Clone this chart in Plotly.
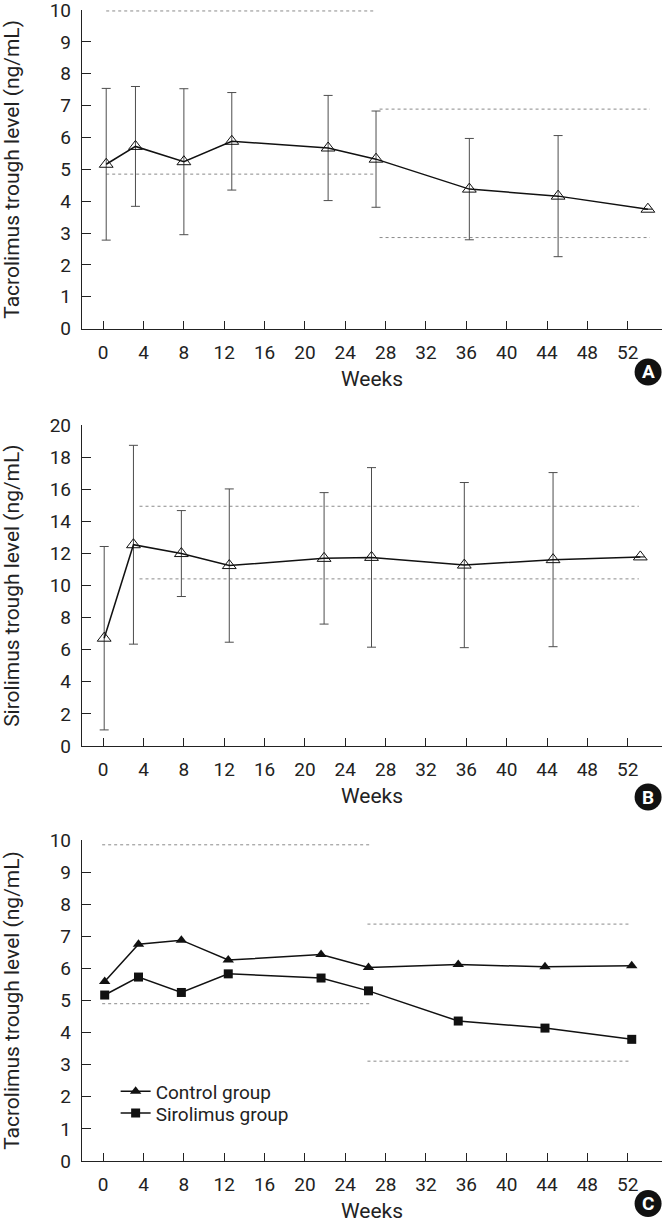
import plotly.graph_objects as go

FONT = "Roboto, Liberation Sans, Arial, sans-serif"

# ---------------- data ----------------
weeks_ticks = list(range(0, 53, 4))

# Panel A: tacrolimus trough level (sirolimus group), mean and SD
a_weeks = [0.3, 3.2, 8.0, 12.75, 22.3, 27.05, 36.3, 45.1, 54.0]
a_mean = [5.16, 5.72, 5.24, 5.88, 5.67, 5.32, 4.38, 4.16, 3.75]
a_sd = [2.38, 1.88, 2.29, 1.53, 1.65, 1.51, 1.59, 1.9, float("nan")]
a_target_x = [[0.3, 27.0], [27.4, 54.2]]
a_target_lo = [4.85, 2.86]
a_target_hi = [9.97, 6.89]

# Panel B: sirolimus trough level
b_weeks = [0.1, 3.0, 7.75, 12.5, 21.9, 26.6, 35.8, 44.6, 53.25]
b_mean = [6.72, 12.55, 12.0, 11.25, 11.7, 11.76, 11.28, 11.62, 11.79]
b_sd = [5.72, 6.2, 2.68, 4.78, 4.1, 5.6, 5.15, 5.43, float("nan")]
b_target_x = [[3.6, 53.1]]
b_target_lo = [10.42]
b_target_hi = [14.95]

# Panel C: tacrolimus trough level, control vs sirolimus group
c_weeks = [0.15, 3.5, 7.75, 12.4, 21.6, 26.3, 35.2, 43.8, 52.4]
c_control = [5.59, 6.75, 6.88, 6.26, 6.43, 6.03, 6.12, 6.05, 6.08]
c_sirolimus = [5.17, 5.73, 5.25, 5.83, 5.7, 5.3, 4.36, 4.14, 3.79]
c_target_x = [[-0.1, 26.4], [26.2, 52.3]]
c_target_lo = [4.9, 3.11]
c_target_hi = [9.85, 7.38]

panel_letters = ["A", "B", "C"]

# ---------------- figure ----------------
fig = go.Figure()

ERR_COLOR = "#4d4d4d"
DOT_COLOR = "#8a8a8a"


def add_targets(xs, los, his, xa, ya):
    for (x0, x1), lo, hi in zip(xs, los, his):
        for v in (lo, hi):
            fig.add_trace(go.Scatter(
                x=[x0, x1], y=[v, v], mode="lines", xaxis=xa, yaxis=ya,
                line=dict(color=DOT_COLOR, width=1, dash="dot"),
                showlegend=False, hoverinfo="skip"))


add_targets(a_target_x, a_target_lo, a_target_hi, "x", "y")
add_targets(b_target_x, b_target_lo, b_target_hi, "x2", "y2")
add_targets(c_target_x, c_target_lo, c_target_hi, "x3", "y3")

fig.add_trace(go.Scatter(
    x=a_weeks, y=a_mean, mode="lines+markers", xaxis="x", yaxis="y",
    line=dict(color="#111111", width=1.5),
    marker=dict(symbol="triangle-up-open", size=12, color="#111111",
                line=dict(width=1)),
    error_y=dict(type="data", array=a_sd, color=ERR_COLOR, thickness=1,
                 width=4.5),
    showlegend=False))

fig.add_trace(go.Scatter(
    x=b_weeks, y=b_mean, mode="lines+markers", xaxis="x2", yaxis="y2",
    line=dict(color="#111111", width=1.5),
    marker=dict(symbol="triangle-up-open", size=12, color="#111111",
                line=dict(width=1)),
    error_y=dict(type="data", array=b_sd, color=ERR_COLOR, thickness=1,
                 width=4.5),
    showlegend=False))

fig.add_trace(go.Scatter(
    x=c_weeks, y=c_control, mode="lines+markers", xaxis="x3", yaxis="y3",
    name="Control group", legend="legend",
    line=dict(color="#111111", width=1.5),
    marker=dict(symbol="triangle-up", size=10, color="#111111")))

fig.add_trace(go.Scatter(
    x=c_weeks, y=c_sirolimus, mode="lines+markers", xaxis="x3", yaxis="y3",
    name="Sirolimus group", legend="legend2",
    line=dict(color="#111111", width=1.5),
    marker=dict(symbol="square", size=9, color="#111111")))

# ---------------- axes ----------------
TICKFONT = dict(family=FONT, size=19, color="#222222")
TITLEFONT = dict(family=FONT, size=21, color="#222222")

xcommon = dict(
    range=[-2.1, 55.4], tickmode="array", tickvals=weeks_ticks,
    ticks="inside", ticklen=8, tickwidth=1, tickcolor="#222222",
    showline=True, linecolor="#222222", linewidth=1.3,
    showgrid=False, zeroline=False, tickfont=TICKFONT,
    ticklabelstandoff=6, domain=[0, 1], automargin=False,
    ticklabeloverflow="allow",
)


def ycommon(rng, dtick, dom, title):
    return dict(
        range=rng, dtick=dtick, tick0=0,
        ticks="inside", ticklen=9, tickwidth=1, tickcolor="#222222",
        showline=True, linecolor="#222222", linewidth=1.3,
        showgrid=False, zeroline=False, tickfont=TICKFONT,
        ticklabelstandoff=6, domain=dom, automargin=False,
        ticklabeloverflow="allow",
        title=dict(text=title, font=TITLEFONT, standoff=35),
    )


fig.update_layout(
    xaxis=dict(xcommon, anchor="y",
               title=dict(text="Weeks", font=TITLEFONT, standoff=8)),
    xaxis2=dict(xcommon, anchor="y2",
                title=dict(text="Weeks", font=TITLEFONT, standoff=8)),
    xaxis3=dict(xcommon, anchor="y3",
                title=dict(text="Weeks", font=TITLEFONT, standoff=8)),
    yaxis=ycommon([0, 10], 1, [0.7231, 1.0], "Tacrolimus trough level (ng/mL)"),
    yaxis2=ycommon([0, 20], 2, [0.3606, 0.6392], "Sirolimus trough level (ng/mL)"),
    yaxis3=ycommon([0, 10], 1, [0.0, 0.2789], "Tacrolimus trough level (ng/mL)"),
)

# circled panel letters
letter_pos = [0.6855, 0.3162, -0.0369]
for letter, py in zip(panel_letters, letter_pos):
    fig.add_shape(type="circle", xref="paper", yref="paper",
                  xsizemode="pixel", ysizemode="pixel",
                  xanchor=0.976, yanchor=py, x0=-13.5, x1=13.5, y0=-13.5, y1=13.5,
                  fillcolor="#111111", line=dict(width=0))
    fig.add_annotation(x=0.976, y=py, xref="paper", yref="paper",
                       text="<b>%s</b>" % letter, showarrow=False,
                       font=dict(family=FONT, size=19, color="white"),
                       xanchor="center", yanchor="middle")

LEGFONT = dict(family=FONT, size=19, color="#222222")
fig.update_layout(
    width=670, height=1225,
    margin=dict(l=82, r=8, t=10, b=64, autoexpand=False),
    paper_bgcolor="white", plot_bgcolor="white",
    font=dict(family=FONT, size=19, color="#222222"),
    showlegend=True,
    legend=dict(x=0.058, y=0.077, xanchor="left", yanchor="top",
                bgcolor="rgba(0,0,0,0)", font=LEGFONT, itemwidth=30),
    legend2=dict(x=0.058, y=0.058, xanchor="left", yanchor="top",
                 bgcolor="rgba(0,0,0,0)", font=LEGFONT, itemwidth=30),
)

fig.write_html("out.html",
               config={"displayModeBar": False},
               post_script="document.body.style.margin='0';")
